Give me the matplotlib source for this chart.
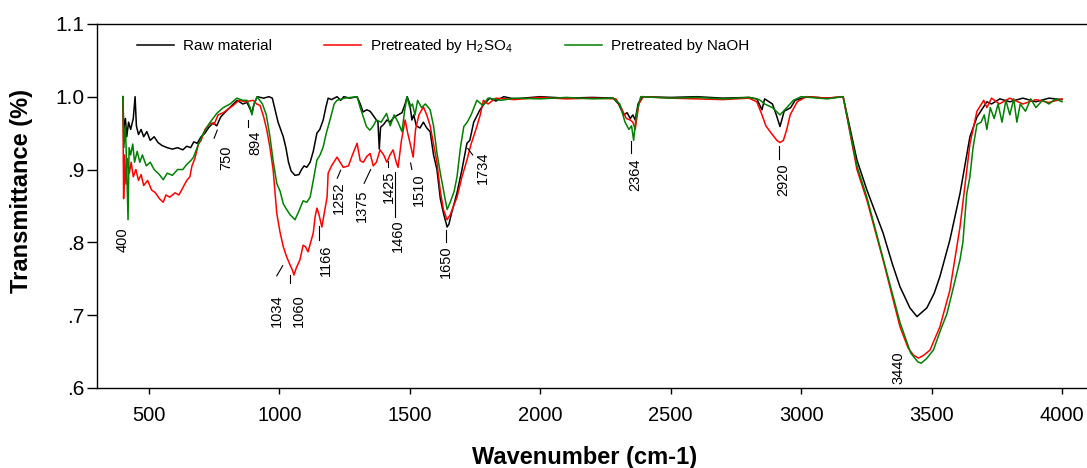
import numpy as np
import matplotlib
matplotlib.use("Agg")
import matplotlib.pyplot as plt

plt.rcParams['font.family'] = ['Liberation Sans', 'DejaVu Sans']
plt.rcParams['mathtext.default'] = 'regular'

# Raw material
raw_x = [400, 404, 410, 415, 422, 430, 440, 447, 452, 460, 470, 480, 492, 505, 520, 535, 550, 570,
         590, 610, 630, 645, 660, 672, 685, 700, 715, 730, 746, 760, 775, 790, 810, 838, 860, 876,
         885, 894, 903, 915, 940, 960, 973, 985, 995, 1005, 1015, 1025, 1035, 1045, 1060, 1075,
         1085, 1095, 1105, 1118, 1130, 1144, 1155, 1168, 1178, 1187, 1200, 1221, 1235, 1247, 1270,
         1298, 1310, 1321, 1335, 1348, 1362, 1372, 1378, 1383, 1388, 1400, 1412, 1424, 1440, 1455,
         1470, 1482, 1490, 1500, 1508, 1515, 1525, 1539, 1552, 1565, 1578, 1591, 1604, 1617, 1629,
         1643, 1650, 1660, 1681, 1700, 1719, 1730, 1745, 1769, 1785, 1807, 1830, 1860, 1900, 2000,
         2100, 2200, 2280, 2300, 2320, 2333, 2345, 2355, 2364, 2375, 2390, 2500, 2600, 2700, 2800,
         2830, 2850, 2860, 2890, 2905, 2919, 2935, 2960, 2977, 3022, 3100, 3161, 3214, 3252, 3314,
         3350, 3379, 3417, 3444, 3482, 3510, 3532, 3570, 3609, 3647, 3674, 3712, 3730, 3762, 3800,
         3850, 3900, 3950, 4000]
raw_t = [1.0, 0.955, 0.97, 0.945, 0.965, 0.955, 0.97, 1.0, 0.96, 0.948, 0.955, 0.945, 0.952, 0.94,
         0.945, 0.937, 0.933, 0.93, 0.928, 0.93, 0.927, 0.932, 0.93, 0.938, 0.936, 0.945, 0.95,
         0.958, 0.964, 0.96, 0.972, 0.978, 0.985, 0.995, 0.99, 0.992, 0.985, 0.978, 0.99, 1.0,
         0.998, 1.0, 0.998, 0.98, 0.965, 0.955, 0.945, 0.93, 0.91, 0.898, 0.892, 0.893, 0.9, 0.905,
         0.903, 0.91, 0.925, 0.95, 0.955, 0.968, 0.985, 0.998, 0.996, 1.0, 0.995, 1.0, 0.998, 1.0,
         0.99, 0.979, 0.982, 0.98, 0.973, 0.968, 0.965, 0.928, 0.958, 0.962, 0.968, 0.965, 0.972,
         0.975, 0.978, 0.99, 1.0, 0.99, 0.968, 0.975, 0.96, 0.957, 0.965, 0.957, 0.952, 0.92, 0.9,
         0.86, 0.84, 0.821, 0.825, 0.84, 0.868, 0.9, 0.936, 0.94, 0.965, 0.982, 0.99, 0.998, 0.994,
         1.0, 0.997, 1.0, 0.998, 0.999, 0.998, 0.99, 0.975, 0.978, 0.97, 0.975, 0.968, 0.99, 1.0,
         0.999, 1.0, 0.998, 0.999, 0.997, 0.982, 0.997, 0.99, 0.975, 0.959, 0.98, 0.985, 0.995, 1.0,
         0.998, 1.0, 0.913, 0.872, 0.813, 0.77, 0.739, 0.71, 0.698, 0.71, 0.73, 0.753, 0.803, 0.867,
         0.945, 0.972, 0.993, 0.99, 0.997, 0.993, 0.998, 0.993, 0.998, 0.996]

# Pretreated by H2SO4
acid_x = [400, 403, 407, 412, 418, 425, 432, 440, 450, 460, 470, 480, 495, 510, 525, 540, 555, 565,
          580, 600, 615, 630, 645, 657, 665, 676, 690, 700, 715, 735, 750, 765, 785, 800, 823, 845,
          870, 900, 913, 926, 940, 952, 964, 976, 990, 1002, 1015, 1028, 1041, 1050, 1056, 1065,
          1079, 1091, 1100, 1110, 1120, 1130, 1137, 1144, 1152, 1163, 1172, 1183, 1187, 1200, 1221,
          1233, 1245, 1265, 1280, 1298, 1310, 1322, 1335, 1348, 1360, 1372, 1386, 1400, 1412, 1424,
          1436, 1448, 1455, 1468, 1482, 1492, 1505, 1513, 1522, 1535, 1552, 1565, 1578, 1591, 1604,
          1617, 1629, 1643, 1655, 1668, 1681, 1700, 1719, 1735, 1757, 1770, 1782, 1800, 1830, 1900,
          2000, 2100, 2200, 2290, 2310, 2330, 2345, 2355, 2364, 2378, 2395, 2500, 2600, 2700, 2800,
          2830, 2850, 2865, 2881, 2907, 2919, 2932, 2945, 2958, 2985, 3020, 3100, 3161, 3214, 3252,
          3314, 3379, 3410, 3431, 3450, 3470, 3494, 3532, 3570, 3609, 3647, 3674, 3700, 3712, 3730,
          3760, 3800, 3850, 3900, 3950, 4000]
acid_t = [1.0, 0.86, 0.92, 0.88, 0.915, 0.895, 0.91, 0.89, 0.9, 0.885, 0.893, 0.878, 0.885, 0.872,
          0.868, 0.86, 0.855, 0.865, 0.862, 0.868, 0.865, 0.875, 0.885, 0.89, 0.905, 0.915, 0.935,
          0.94, 0.955, 0.964, 0.962, 0.975, 0.978, 0.982, 0.988, 0.995, 0.993, 0.995, 0.99, 0.988,
          0.972, 0.954, 0.93, 0.9, 0.84, 0.815, 0.794, 0.78, 0.769, 0.762, 0.755, 0.765, 0.776,
          0.796, 0.794, 0.787, 0.8, 0.813, 0.835, 0.847, 0.838, 0.821, 0.84, 0.862, 0.895, 0.905,
          0.917, 0.91, 0.903, 0.905, 0.92, 0.936, 0.912, 0.91, 0.918, 0.922, 0.905, 0.91, 0.927,
          0.92, 0.91, 0.92, 0.927, 0.91, 0.903, 0.94, 0.968, 0.95, 0.93, 0.917, 0.955, 0.975, 0.986,
          0.975, 0.96, 0.935, 0.91, 0.87, 0.845, 0.831, 0.838, 0.85, 0.862, 0.89, 0.913, 0.935,
          0.959, 0.975, 0.995, 0.99, 0.998, 0.996, 0.999, 0.997, 0.998, 0.997, 0.985, 0.97, 0.968,
          0.965, 0.955, 0.99, 1.0, 0.998, 0.997, 0.996, 0.998, 0.993, 0.975, 0.96, 0.952, 0.94,
          0.937, 0.94, 0.955, 0.975, 0.993, 1.0, 0.998, 1.0, 0.9, 0.858, 0.776, 0.684, 0.655, 0.645,
          0.641, 0.645, 0.652, 0.684, 0.734, 0.821, 0.935, 0.98, 0.995, 0.985, 0.998, 0.99, 0.998,
          0.99, 0.996, 0.992, 0.997]

# Pretreated by NaOH
base_x = [400, 404, 410, 415, 420, 424, 430, 438, 445, 455, 465, 475, 490, 505, 520, 540, 555, 570,
          590, 610, 630, 645, 660, 671, 690, 709, 735, 760, 785, 811, 837, 860, 876, 888, 895, 903,
          915, 935, 950, 964, 977, 990, 1003, 1015, 1028, 1041, 1060, 1075, 1091, 1105, 1118, 1130,
          1144, 1156, 1168, 1180, 1194, 1210, 1221, 1250, 1298, 1310, 1334, 1347, 1360, 1372, 1390,
          1411, 1425, 1440, 1455, 1470, 1480, 1489, 1500, 1510, 1520, 1530, 1545, 1560, 1578, 1591,
          1604, 1617, 1629, 1643, 1655, 1670, 1681, 1694, 1707, 1720, 1735, 1757, 1780, 1800, 1850,
          1900, 2000, 2100, 2200, 2280, 2305, 2325, 2340, 2350, 2358, 2368, 2385, 2500, 2600, 2700,
          2800, 2840, 2860, 2890, 2919, 2945, 2970, 3000, 3100, 3161, 3214, 3252, 3314, 3379, 3420,
          3447, 3460, 3480, 3507, 3535, 3559, 3585, 3609, 3620, 3635, 3647, 3659, 3674, 3690, 3702,
          3712, 3725, 3740, 3755, 3770, 3785, 3800, 3815, 3827, 3840, 3860, 3880, 3900, 3925, 3950,
          3975, 4000]
base_t = [1.0, 0.93, 0.96, 0.9, 0.831, 0.93, 0.92, 0.935, 0.91, 0.925, 0.91, 0.92, 0.905, 0.91,
          0.9, 0.893, 0.886, 0.895, 0.892, 0.9, 0.9, 0.907, 0.912, 0.917, 0.935, 0.95, 0.965, 0.977,
          0.985, 0.99, 0.998, 0.995, 0.995, 0.985, 0.975, 0.99, 1.0, 0.99, 0.975, 0.945, 0.91, 0.881,
          0.87, 0.853, 0.845, 0.838, 0.831, 0.843, 0.857, 0.855, 0.862, 0.885, 0.913, 0.92, 0.931,
          0.95, 0.968, 0.99, 0.995, 0.998, 1.0, 0.985, 0.959, 0.954, 0.96, 0.968, 0.965, 0.977, 0.96,
          0.975, 0.965, 0.952, 0.98, 1.0, 0.985, 0.99, 0.975, 0.995, 0.985, 0.99, 0.982, 0.96, 0.923,
          0.895, 0.872, 0.845, 0.855, 0.87, 0.89, 0.93, 0.959, 0.965, 0.975, 0.995, 0.988, 0.998,
          0.995, 0.998, 0.997, 0.999, 0.997, 0.998, 0.99, 0.965, 0.955, 0.96, 0.94, 0.975, 1.0,
          0.998, 0.999, 0.997, 0.999, 0.996, 0.99, 0.985, 0.975, 0.985, 0.995, 1.0, 0.997, 1.0,
          0.905, 0.862, 0.778, 0.69, 0.648, 0.636, 0.634, 0.64, 0.652, 0.68, 0.702, 0.74, 0.776, 0.8,
          0.867, 0.89, 0.93, 0.962, 0.965, 0.975, 0.955, 0.985, 0.97, 0.99, 0.965, 0.995, 0.975,
          0.997, 0.965, 0.99, 0.98, 0.997, 0.985, 0.995, 0.99, 0.997, 0.993]

series_names = ['Raw material', 'Pretreated by H$_2$SO$_4$', 'Pretreated by NaOH']

# peak labels: text, text position, marker line
peak_labels = [
    ('400', 401, 0.803, None),
    ('750', 798, 0.916, (750, 0.943, 762, 0.954)),
    ('894', 907, 0.937, (881, 0.959, 881, 0.968)),
    ('1034', 990, 0.706, (990, 0.754, 1013, 0.768)),
    ('1060', 1073, 0.706, (1042, 0.744, 1042, 0.755)),
    ('1166', 1178, 0.775, (1153, 0.803, 1153, 0.822)),
    ('1252', 1230, 0.861, (1222, 0.888, 1235, 0.899)),
    ('1375', 1318, 0.850, (1325, 0.881, 1350, 0.900)),
    ('1425', 1418, 0.876, (1418, 0.904, 1418, 0.911)),
    ('1460', 1456, 0.809, (1443, 0.835, 1443, 0.897)),
    ('1510', 1535, 0.872, (1503, 0.909, 1508, 0.900)),
    ('1650', 1638, 0.773, (1638, 0.801, 1638, 0.817)),
    ('1734', 1782, 0.902, (1722, 0.929, 1741, 0.920)),
    ('2364', 2364, 0.893, (2349, 0.923, 2349, 0.939)),
    ('2920', 2932, 0.886, (2914, 0.915, 2914, 0.932)),
    ('3440', 3375, 0.628, None),
]

yticks = [0.6, 0.7, 0.8, 0.9, 1.0, 1.1]
ytick_labels = ['.6', '.7', '.8', '.9', '1.0', '1.1']
xticks = [500, 1000, 1500, 2000, 2500, 3000, 3500, 4000]

fig = plt.figure(figsize=(10.87, 4.68), dpi=100)
ax = fig.add_axes([0.089, 0.171, 0.912, 0.778])

ax.plot(raw_x, raw_t, color='black', lw=1.1, label=series_names[0])
ax.plot(acid_x, acid_t, color='#ff0000', lw=1.1, label=series_names[1])
ax.plot(base_x, base_t, color='#008000', lw=1.1, label=series_names[2])

for txt, tx, ty, seg in peak_labels:
    ax.text(tx, ty, txt, rotation=90, ha='center', va='center', fontsize=10.5)
    if seg is not None:
        ax.plot([seg[0], seg[2]], [seg[1], seg[3]], color='black', lw=0.8)

ax.set_xlim(300, 4100)
ax.set_ylim(0.6, 1.1)
ax.set_xticks(xticks)
ax.set_yticks(yticks)
ax.set_yticklabels(ytick_labels)
ax.tick_params(axis='y', direction='out', length=7, width=1, labelsize=15, pad=2)
ax.tick_params(axis='x', direction='out', length=4, width=1, labelsize=14.5, pad=9)
for s in ax.spines.values():
    s.set_linewidth(1.0)

ax.set_xlabel('Wavenumber (cm-1)', fontsize=17, fontweight='bold')
ax.xaxis.set_label_coords(0.4925, -0.158)
ax.set_ylabel('Transmittance (%)', fontsize=17, fontweight='bold')
ax.yaxis.set_label_coords(-0.064, 0.541)

ax.legend(loc='upper left', bbox_to_anchor=(0.041, 0.964), ncol=3, frameon=False,
          fontsize=11, handlelength=2.4, handletextpad=0.6, columnspacing=3.4,
          borderpad=0, borderaxespad=0)

plt.savefig('out.png', dpi=100)
